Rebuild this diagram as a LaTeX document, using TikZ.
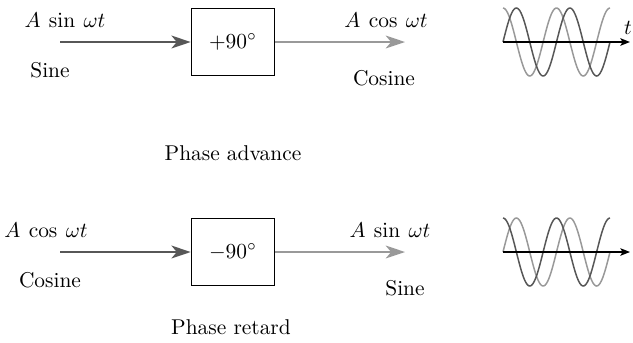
\documentclass[tikz,border=0pt]{standalone}
\usepackage{amsmath}
\usetikzlibrary{arrows.meta}
\colorlet{sigdark}{black!66}
\colorlet{siglight}{black!40}

\begin{document}
\begin{tikzpicture}[x=0.467pt,y=-0.467pt,
  shifter/.style={draw,line width=0.5pt,minimum width=39pt,minimum height=31pt,inner sep=0pt},
  inarrow/.style={sigdark,line width=1pt,-{Stealth[length=9pt,width=6pt,inset=2.5pt]}},
  outarrow/.style={siglight,line width=1pt,-{Stealth[length=9pt,width=6pt,inset=2.5pt]}},
  darkwave/.style={sigdark,line width=0.7pt},
  lightwave/.style={siglight,line width=0.7pt},
  taxis/.style={line width=0.7pt,-{Stealth[length=4.5pt,width=3.5pt,inset=1pt]}}]
\useasboundingbox (0,0) rectangle (633,342);
% phase advance
\node[shifter] (adv) at (233,42) {$+90^\circ$};
\coordinate (advin) at (60,42);
\coordinate (advout) at (405,42);
\draw[inarrow] (advin) -- (adv.west);
\draw[outarrow] (adv.east) -- (advout);
\node (advinlab) at (65,20) {$A\:\sin\:\omega t$};
\node (advinname) at (50,70) {Sine};
\node (advoutlab) at (386,20) {$A\:\cos\:\omega t$};
\node (advoutname) at (384,78) {Cosine};
\node (advcap) at (233,153) {Phase advance};
% waves, sine leads into cosine
\draw[lightwave] plot[domain=503:610,samples=90] (\x,{42-34*cos((\x-503)/53.5*360)});
\draw[darkwave] plot[domain=503:610,samples=90] (\x,{42-34*sin((\x-503)/53.5*360)});
\coordinate (advt0) at (503,42);
\coordinate (advt1) at (630,42);
\draw[taxis] (advt0) -- (advt1);
\node (tlab) at (628,28) {$t$};
% phase retard
\node[shifter] (ret) at (233,252) {$-90^\circ$};
\coordinate (retin) at (60,252);
\coordinate (retout) at (405,252);
\draw[inarrow] (retin) -- (ret.west);
\draw[outarrow] (ret.east) -- (retout);
\node (retinlab) at (46,230) {$A\:\cos\:\omega t$};
\node (retinname) at (50,280) {Cosine};
\node (retoutlab) at (390,230) {$A\:\sin\:\omega t$};
\node (retoutname) at (405,288) {Sine};
\node (retcap) at (231,327) {Phase retard};
% waves, cosine lags into sine
\draw[lightwave] plot[domain=503:610,samples=90] (\x,{252-34*sin((\x-503)/53.5*360)});
\draw[darkwave] plot[domain=503:610,samples=90] (\x,{252-34*cos((\x-503)/53.5*360)});
\coordinate (rett0) at (503,252);
\coordinate (rett1) at (630,252);
\draw[taxis] (rett0) -- (rett1);
\end{tikzpicture}
\end{document}
